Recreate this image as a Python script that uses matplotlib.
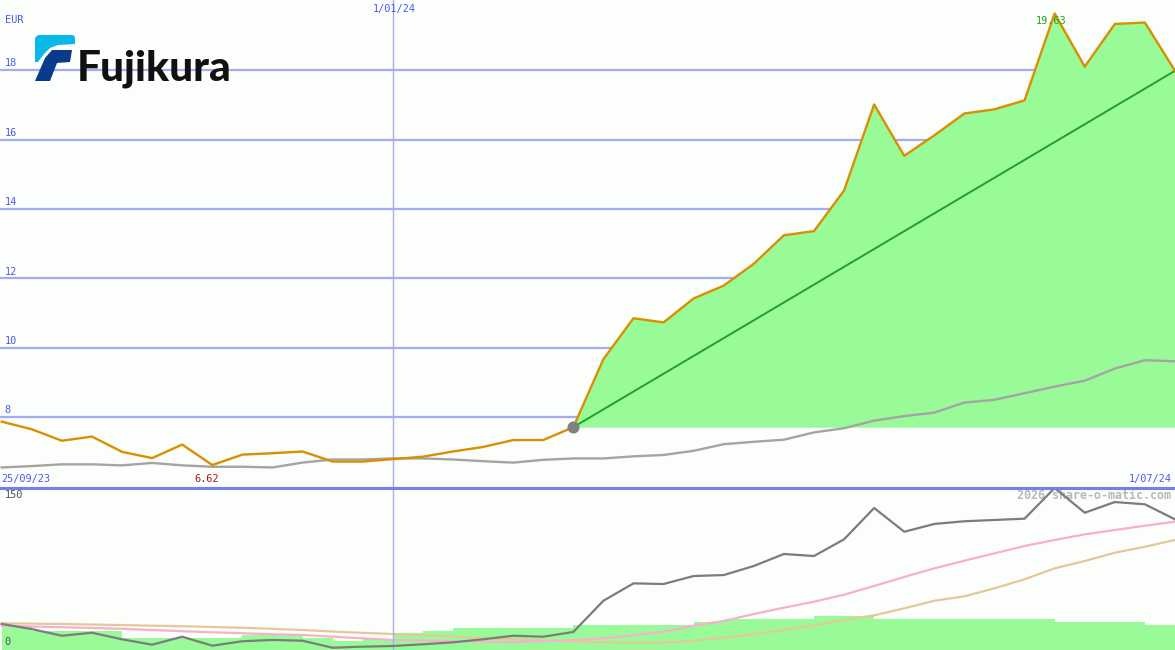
import numpy as np
import matplotlib
matplotlib.use('Agg')
import matplotlib.pyplot as plt
from matplotlib.patches import Polygon
import matplotlib.transforms as mtransforms

# ---------------- data ----------------
week_idx = list(range(40))
price = [7.87, 7.65, 7.32, 7.44, 7.00, 6.82, 7.21, 6.62, 6.92, 6.96,
         7.01, 6.72, 6.72, 6.79, 6.86, 7.01, 7.14, 7.34, 7.34, 7.71,
         9.67, 10.85, 10.73, 11.42, 11.79, 12.42, 13.24, 13.36, 14.53, 17.01,
         15.53, 16.12, 16.75, 16.87, 17.13, 19.63, 18.10, 19.33, 19.37, 17.98]
price_ma = [6.55, 6.59, 6.64, 6.64, 6.61, 6.68, 6.61, 6.57, 6.57, 6.55,
            6.69, 6.78, 6.78, 6.81, 6.81, 6.78, 6.73, 6.69, 6.77, 6.81,
            6.81, 6.87, 6.91, 7.03, 7.22, 7.29, 7.35, 7.56, 7.68, 7.90,
            8.03, 8.13, 8.42, 8.50, 8.69, 8.88, 9.05, 9.40, 9.64, 9.61]
rel_line = [24.1, 19.4, 13.2, 16.0, 9.9, 4.9, 12.3, 4.0, 8.1, 9.3,
            8.6, 2.1, 3.1, 3.7, 5.3, 7.1, 9.9, 13.2, 12.3, 16.7,
            45.6, 61.7, 61.1, 68.5, 69.4, 77.8, 88.9, 87.0, 102.5, 131.5,
            109.5, 116.7, 119.2, 120.4, 121.6, 150.0, 127.1, 137.0, 134.9, 121.0]
rel_ma_short = [22.5, 21.8, 21.1, 20.4, 19.6, 18.5, 17.4, 16.4, 15.5, 14.6,
                13.9, 12.3, 10.8, 9.3, 8.8, 8.3, 7.7, 7.4, 8.1, 9.0,
                10.8, 13.6, 17.0, 22.5, 26.9, 33.3, 39.2, 44.7, 51.2, 59.3,
                67.6, 75.6, 82.7, 89.5, 96.3, 101.9, 107.1, 111.1, 115.1, 118.8]
rel_ma_long = [24.7, 24.4, 24.1, 23.6, 23.1, 22.5, 22.0, 21.3, 20.6, 19.6,
               18.5, 17.1, 15.9, 14.8, 13.6, 12.5, 11.1, 9.9, 8.8, 7.9,
               7.1, 6.8, 6.9, 8.6, 11.4, 14.8, 18.5, 22.9, 27.8, 32.1,
               38.6, 45.6, 49.7, 57.1, 65.5, 75.6, 82.4, 90.1, 95.6, 101.9]
volume = [21.0, 17.6, 17.6, 17.6, 11.4, 11.4, 11.4, 11.4, 13.9, 13.9,
          11.4, 8.3, 10.2, 15.4, 17.6, 20.6, 20.6, 20.6, 20.6, 23.1,
          23.1, 23.1, 23.1, 25.9, 28.7, 28.7, 28.7, 31.5, 31.5, 28.7,
          28.7, 28.7, 28.7, 28.7, 28.7, 25.9, 25.9, 25.9, 23.1, 23.1]
price_ticks = [8, 10, 12, 14, 16, 18]
lower_ticks = [0, 150]
start_label = "25/09/23"
end_label = "1/07/24"
year_label = "1/01/24"
year_week = 13
signal_week = 19
currency = "EUR"

# ---------------- styling ----------------
BG = '#fcfefc'
GRID = '#a4acf4'
SEP = '#7080f0'
TXT_BLUE = '#4a5af0'
PRICE_C = '#d98f00'
FILL_C = '#98fb98'
TREND_C = '#22a022'
MA_C = '#a4a4a4'
FONT = 'DejaVu Sans Mono'
FS = 7.4

fig = plt.figure(figsize=(11.75, 6.5), dpi=100, facecolor=BG)
ax = fig.add_axes([0, 162 / 650, 1, 488 / 650])
ax2 = fig.add_axes([0, 0, 1, 162 / 650])

xlim = (-0.057, 39.0)
for a in (ax, ax2):
    a.set_facecolor(BG)
    a.set_xlim(*xlim)
    a.set_xticks([])
    a.set_yticks([])
    for s in a.spines.values():
        s.set_visible(False)

ax.set_ylim(5.958, 20.02)
ax2.set_ylim(0, 150)

x = np.array(week_idx)
p = np.array(price)

# grid
for t in price_ticks:
    ax.axhline(t, color=GRID, lw=1.6, zorder=1)
ax.axvline(year_week, color=GRID, lw=1.0, zorder=1)
ax2.axvline(year_week, color=GRID, lw=1.0, zorder=3)

# top panel
s = signal_week
ax.fill_between(x[s:], p[s:], p[s], color=FILL_C, lw=0, zorder=2)
ax.plot([x[s], x[-1]], [p[s], p[-1]], color=TREND_C, lw=1.4, zorder=3)
ax.plot(x, price_ma, color=MA_C, lw=1.7, zorder=3)
ax.plot(x, p, color=PRICE_C, lw=1.7, zorder=4)
ax.scatter([x[s]], [p[s]], s=75, color='#808080', zorder=5, lw=0)

# labels top panel
bt = mtransforms.blended_transform_factory(ax.transAxes, ax.transData)
for t in price_ticks:
    ax.text(0.004, t + 0.05, str(t), transform=bt, color=TXT_BLUE,
            fontsize=FS, family=FONT, va='bottom', ha='left', zorder=7)
ax.text(0.004, 0.958, currency, transform=ax.transAxes, color=TXT_BLUE,
        fontsize=FS, family=FONT, va='center', ha='left')
bx = mtransforms.blended_transform_factory(ax.transData, ax.transAxes)
ax.text(year_week + 0.05, 0.992, year_label, transform=bx, color=TXT_BLUE,
        fontsize=FS, family=FONT, va='top', ha='center')
ax.text(0.001, 0.008, start_label, transform=ax.transAxes, color=TXT_BLUE,
        fontsize=FS, family=FONT, va='bottom', ha='left')
ax.text(0.997, 0.008, end_label, transform=ax.transAxes, color=TXT_BLUE,
        fontsize=FS, family=FONT, va='bottom', ha='right')
imin = int(np.argmin(p))
ax.text(x[imin] - 0.2, 0.008, f"{p[imin]:.2f}", transform=bx, color='#a01818',
        fontsize=FS, family=FONT, va='bottom', ha='center')
imax = int(np.argmax(p))
ax.annotate(f"{p[imax]:.2f}", xy=(x[imax], p[imax]), xytext=(-4, -7),
            textcoords='offset pixels', color=TREND_C, fontsize=FS,
            family=FONT, va='center', ha='center', zorder=6)

# bottom panel
ax2.bar(x, volume, width=1.0, align='edge', color=FILL_C, lw=0, zorder=1)
ax2.plot(x, rel_ma_long, color='#e4c89c', lw=1.6, zorder=2)
ax2.plot(x, rel_ma_short, color='#f8b0c8', lw=1.6, zorder=2)
ax2.plot(x, rel_line, color='#7c7c7c', lw=1.6, zorder=4)
ax2.text(0.004, 0.955, str(lower_ticks[1]), transform=ax2.transAxes,
         color='#505050', fontsize=FS, family=FONT, va='center', ha='left')
ax2.text(0.004, 0.05, str(lower_ticks[0]), transform=ax2.transAxes,
         color='#505050', fontsize=FS, family=FONT, va='center', ha='left')
ax2.text(0.997, 0.955, "2026 share-o-matic.com", transform=ax2.transAxes,
         color='#b8b8b8', fontsize=8.4, family=FONT, va='center', ha='right',
         fontweight='bold', zorder=3)

# overlay: panel separator + logo
lg = fig.add_axes([0, 0, 1, 1], facecolor='none')
lg.set_xlim(0, 1175)
lg.set_ylim(650, 0)
lg.axis('off')
lg.axhline(487.5, color=SEP, lw=2.2)
cyan = Polygon([(38, 35), (73, 35), (75, 37), (75, 44), (58, 45), (50, 48),
                (44, 54), (38, 62), (35, 62), (35, 38)], closed=True,
               color='#08b8e8', lw=0)
navy = Polygon([(52, 50), (72, 50), (70, 62), (57, 63), (50, 81), (35, 81),
                (45, 58)], closed=True, color='#0a3a8c', lw=0)
lg.add_patch(cyan)
lg.add_patch(navy)
lg.text(77, 81, "Fujikura", family='Lato', fontweight=900, fontsize=30.5,
        color='#111111', va='baseline', ha='left')

fig.savefig('out.png', dpi=100, facecolor=BG)
